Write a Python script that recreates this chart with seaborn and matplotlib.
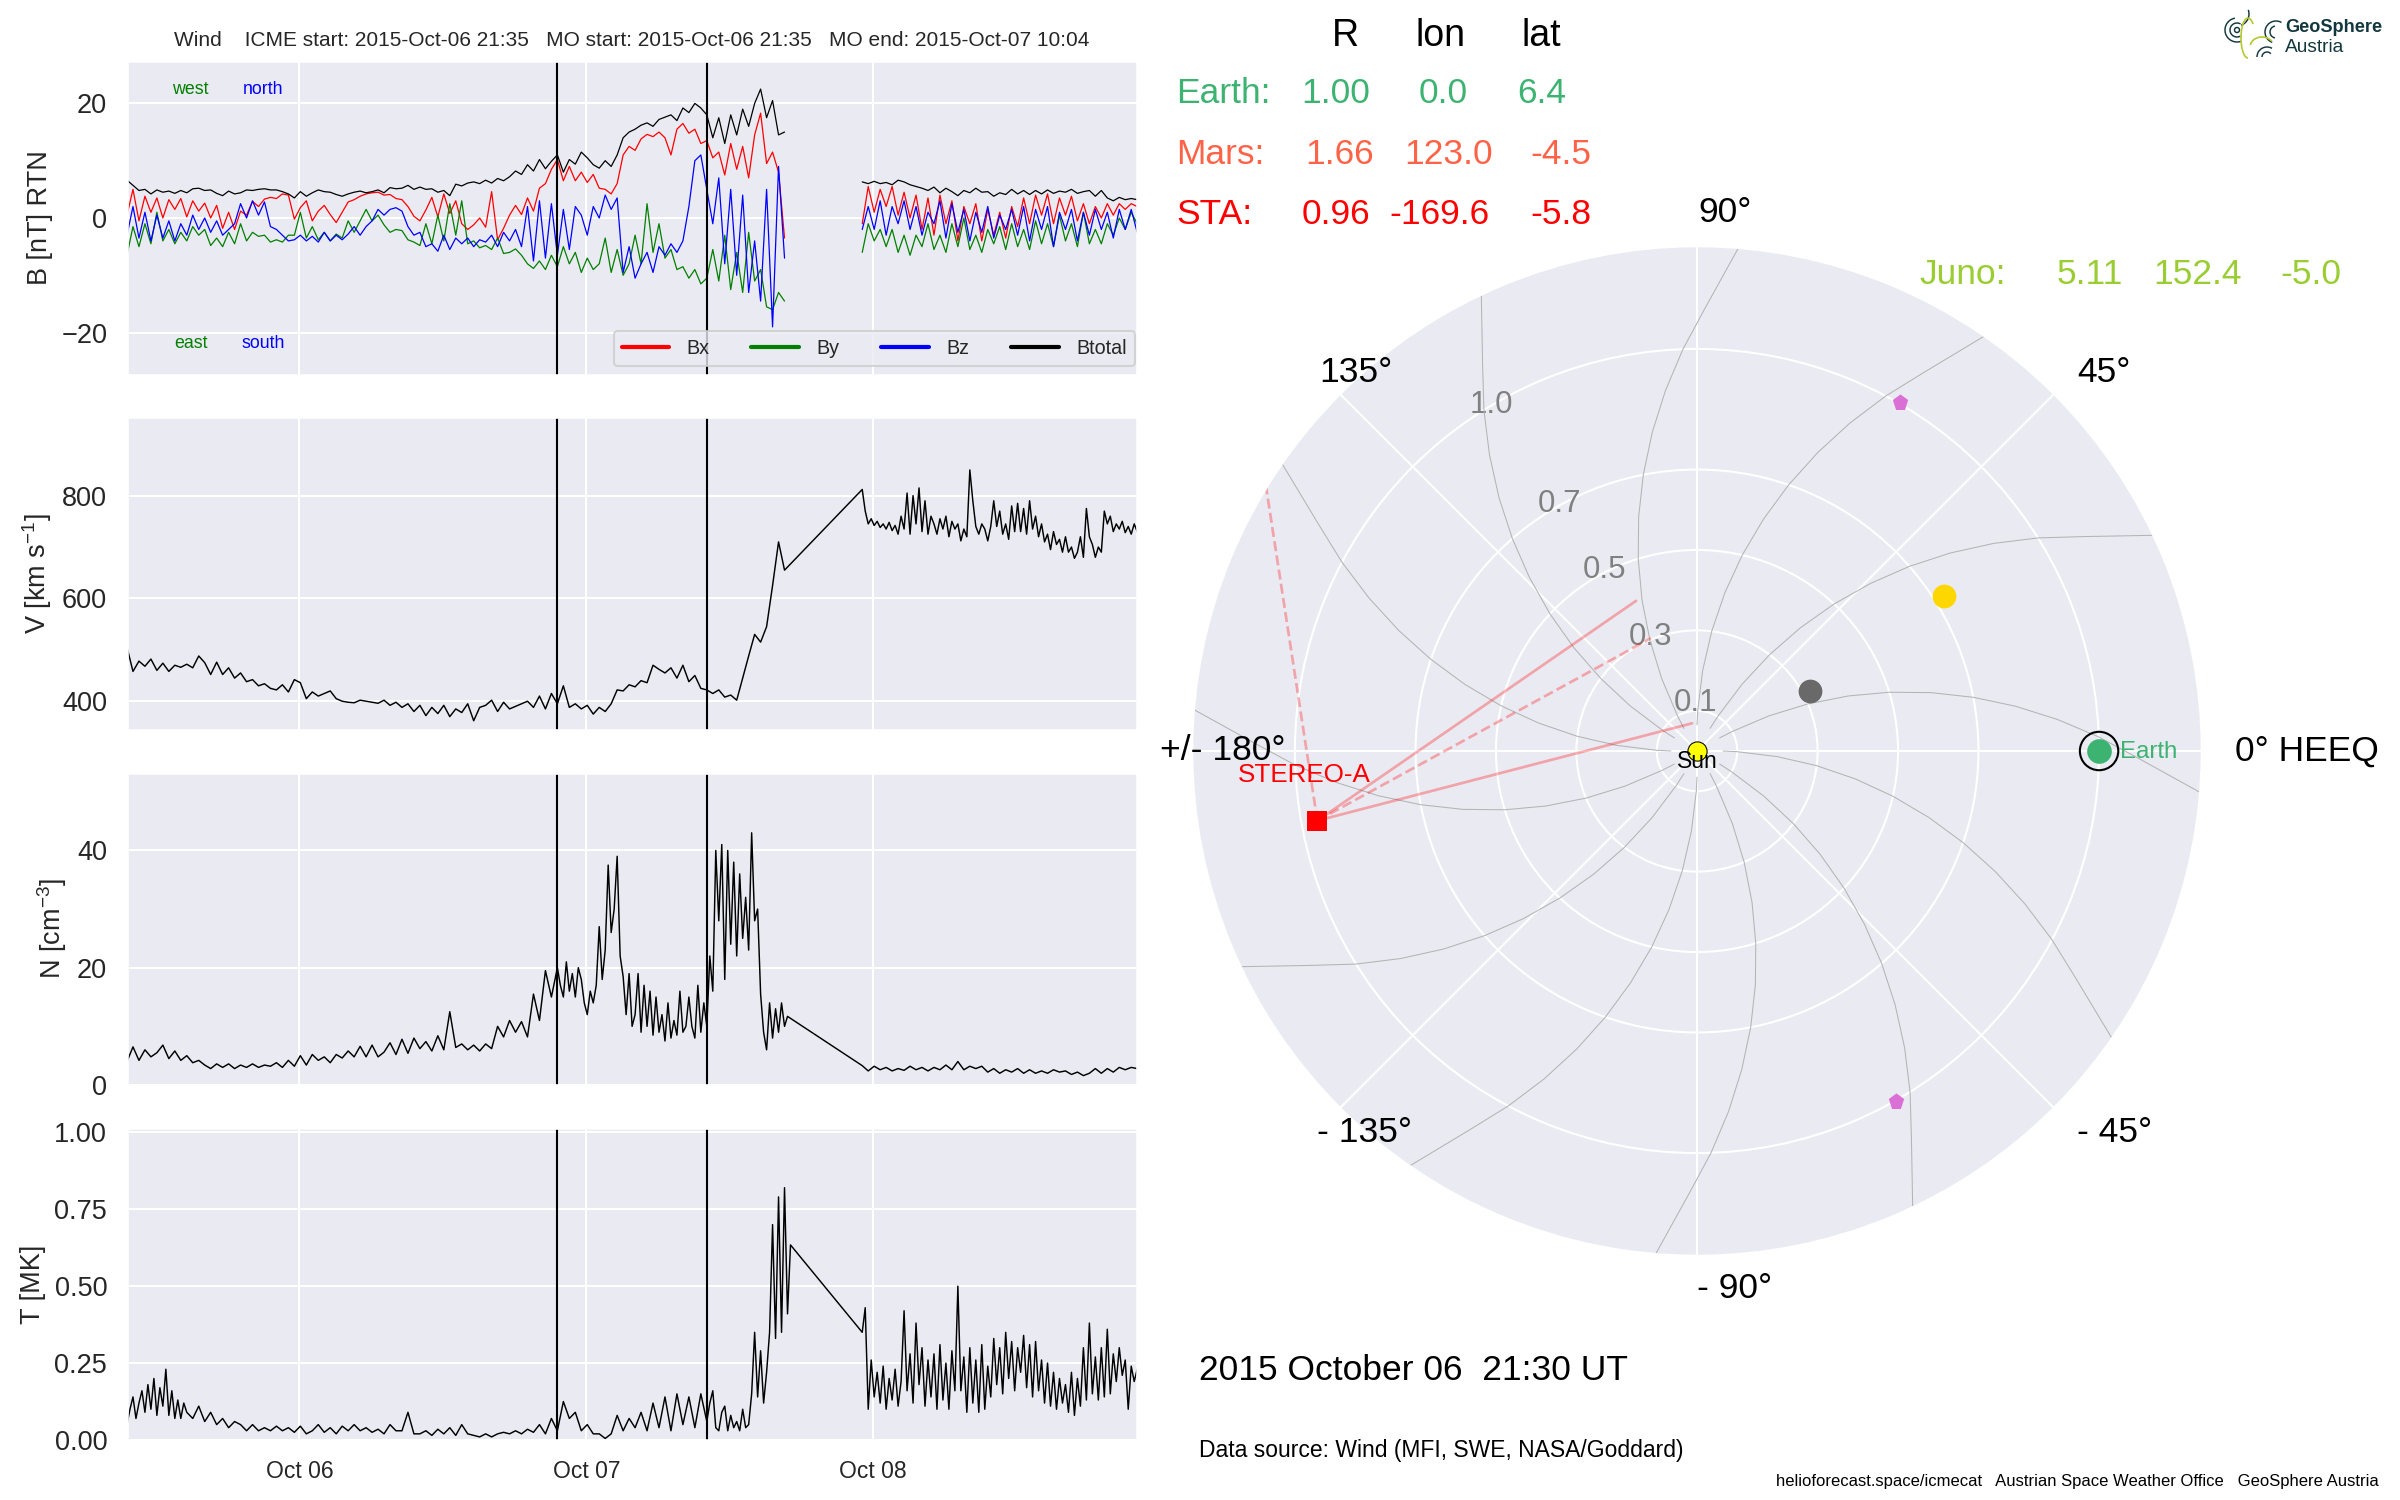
import numpy as np
import pandas as pd
import matplotlib
matplotlib.use("Agg")
import matplotlib.pyplot as plt
import matplotlib.dates as mdates
from matplotlib.lines import Line2D
from matplotlib.patches import Arc, Circle
import seaborn as sns

W, H = 2400, 1500

# ---- in situ data ----
BT_A = [6.6,5.7,4.8,5.0,4.2,4.9,4.5,4.7,4.3,4.8,4.4,5.1,5.2,4.8,4.9,4.3,3.9,4.7,4.2,4.4,4.9,4.8,5.0,5.1,4.9,4.9,4.6,4.2,3.5,
        4.6,3.8,4.4,4.9,4.6,4.5,4.1,3.8,4.2,4.5,4.7,4.4,4.6,4.9,4.4,5.3,5.1,5.2,5.7,5.0,5.4,5.0,5.1,4.5,4.8,3.9,5.9,5.6,
        6.1,6.3,6.0,6.6,6.1,6.9,6.5,7.2,8.2,7.6,9.3,8.2,10.2,8.6,9.9,11.0,
        8.0,10.2,9.4,11.5,10.5,9.3,8.7,10.0,9.0,11.0,14.0,15.0,
        15.5,16.2,16.6,16.0,17.2,17.6,18.0,17.0,19.2,18.4,20.0,19.2,18.0,
        14.0,17.5,13.0,18.0,14.5,19.0,16.0,20.0,22.5,17.5,20.5,14.5,15.0]
BX_A = [0.5,5.0,-0.5,3.8,1.0,3.5,0.0,3.2,1.5,3.4,0.2,3.0,1.2,2.6,0.0,2.2,-1.8,1.0,-2.0,1.2,0.5,2.9,2.0,3.3,3.6,3.4,4.2,4.0,-0.2,
        1.8,3.0,-0.5,1.2,2.2,0.6,-0.8,1.0,2.8,3.2,3.8,4.2,4.4,4.5,4.0,4.1,3.4,3.2,2.0,0.3,-0.5,1.4,3.6,0.2,4.2,0.8,3.0,-1.0,
        -2.0,-1.2,0.0,-1.6,4.6,-3.8,-1.8,0.5,2.2,0.6,3.5,1.2,5.2,6.0,8.5,10.2,
        6.5,9.0,6.5,8.0,6.2,7.6,5.2,5.0,4.2,6.0,11.0,12.5,
        11.8,13.8,14.6,14.2,15.0,14.0,11.0,15.5,16.5,14.8,15.5,13.0,13.5,
        10.5,11.5,7.5,13.0,8.5,12.5,7.0,14.5,18.3,9.5,11.5,8.0,-3.5]
BY_A = [-6.5,-1.5,-5.0,-1.0,-4.5,1.0,-4.0,-2.0,-4.5,-2.5,-4.0,-1.5,-3.0,-2.0,-4.8,-3.5,-5.0,-2.5,-4.5,-1.0,-4.0,-2.5,-3.2,-3.0,-4.2,-3.8,-4.2,-3.0,-3.0,
        1.0,-3.5,-1.5,-3.8,-2.5,-4.0,-2.8,-3.5,-0.5,-2.5,-0.5,1.5,-0.5,0.5,-1.2,-2.5,-2.0,-2.2,-3.8,-4.2,-4.8,-1.0,-4.5,0.5,-4.0,2.5,-3.0,3.0,
        -4.5,-4.0,-5.2,-4.8,-5.5,-3.5,-6.2,-6.0,-5.4,-6.5,-8.0,-8.8,-7.5,-9.0,-6.5,-8.5,
        -5.0,-8.0,-6.0,-9.5,-7.0,-9.0,-8.0,-3.5,-9.5,-5.5,-10.0,-8.0,
        -3.0,-8.0,2.5,-6.0,-1.0,-7.0,-5.5,-9.0,-8.5,-10.5,-9.0,-11.5,-10.5,
        -5.5,-11.0,-3.0,-12.5,-6.0,-13.0,-2.5,-11.0,-9.0,-15.5,-16.0,-13.0,-14.5]
BZ_A = [-3.0,2.0,-3.5,1.0,-4.0,0.5,-3.5,-0.5,-4.0,-1.0,-3.0,0.5,-2.0,0.0,-2.5,-0.5,-3.0,-2.0,-1.0,2.5,0.0,3.0,0.5,2.8,-1.5,-2.0,-3.0,-4.0,-3.8,
        -3.0,-4.0,-3.2,-4.2,-2.5,-4.0,-3.0,-3.8,-2.8,-1.5,-3.0,-1.5,-0.5,1.5,0.5,1.5,1.8,1.2,-1.5,-3.0,-2.5,-5.0,-4.5,-5.8,-3.0,-5.5,-3.5,-4.5,
        -3.5,-5.0,-3.8,-4.2,-3.0,-5.0,-2.5,-4.0,-2.0,-5.0,2.0,-7.5,3.0,-7.0,2.5,-6.5,
        1.5,-5.5,2.0,0.5,-3.0,2.0,0.0,4.0,1.5,3.5,-9.5,-5.0,
        -10.5,-8.0,-6.0,-9.5,-5.0,-6.5,-4.5,-6.0,-4.0,2.0,10.0,11.0,5.0,
        -1.0,7.0,-8.0,5.0,-10.0,4.0,-13.0,-4.0,-14.5,5.0,-19.0,9.0,-7.0]
BT_B = [6.3,6.0,6.4,6.0,6.2,5.8,6.6,6.3,5.8,5.5,5.2,4.8,5.4,4.4,5.2,4.6,3.9,4.8,4.4,5.2,4.5,4.6,3.8,4.4,4.1,5.0,4.2,4.8,4.1,4.8,
        4.2,4.9,4.3,4.7,4.5,5.0,4.3,4.6,4.8,3.8,4.8,3.5,3.0,3.6,3.2,3.4,3.2]
BX_B = [-1,5.5,1,5,2,5.5,0.5,4.5,0,4,-2,3.5,-3,4,-1,3,-4,2,-1,2.5,-4,1.5,-3,1,-3.5,2,-1.5,3.5,-1,4,0.5,4.2,-1,3.5,0.5,3.8,-0.5,2.5,-1,2,0,2.5,0.5,2.5,1.5,2.5,2]
BY_B = [-6,-1,-4,-2,-5,-2,-6,-3,-6.5,-3,-5,-1,-5.5,-3,-6,-1,-5,0,-5.5,-3,-6,-2,-4.5,-1.5,-5.5,-1,-5,-2,-5.5,-0.5,-4.5,-1,-5,0.5,-4,-1,-5,1,-4.5,-2,-4.5,-1,-3,0,-2,1,-1]
BZ_B = [-2,2,-2,3,-3,2,-1,3,-2,2,-3,1,-1,3,-3.5,2.5,-2.5,1.5,-4,1,-2.5,2,-3.5,0.5,-2,1.5,-3,2,-4,1.5,-2,2,-5,1,-2,1.5,-4,1,-3,1.5,-2,1,-3.5,1.5,-2,1.5,-2.5]

V_A = [505,458,478,468,482,460,474,458,470,466,472,465,488,475,452,476,452,465,445,455,438,442,430,434,425,422,432,418,442,
       436,405,418,410,415,420,405,400,398,397,402,400,398,396,402,392,398,388,395,380,392,372,388,376,392,370,385,378,
       395,362,388,392,402,380,398,385,390,395,400,388,410,385,415,395,
       430,388,395,385,392,375,388,380,395,422,420,432,
       428,440,436,470,462,455,465,445,470,438,450,425,422,
       415,422,408,412,402,445,488,530,515,545,625,710,655]
V_B = [812,770,745,755, 742,750,738,745, 735,748,732,742, 725,760,735,805,
       725,800,745,815, 730,790,725,760, 745,725,755,735, 760,720,750,735,
       745,712,735,720, 850,790,740,725, 745,735,712,740, 790,740,770,725,
       745,715,780,730, 785,730,775,725, 790,735,760,720, 745,710,725,695,
       730,705,715,690, 720,690,700,678, 690,720,680,775, 720,705,680,700,
       690,770,745,760, 730,745,735,750, 728,740,725,745, 730]
N_A1 = [4.0,6.5,4.2,6.0,4.8,5.5,6.8,4.5,5.8,4.2,5.0,3.8,4.2,3.4,2.8,3.6,3.0,3.6,2.8,3.4,3.0,3.6,3.0,3.4,3.2,3.8,3.0,4.2,3.2,
        5.0,3.4,5.2,4.2,4.8,3.8,5.2,4.6,5.8,4.8,6.6,4.8,6.8,4.8,5.6,7.2,5.2,7.8,5.4,8.0,6.2,7.4,5.8,8.4,6.0,12.5,6.4,7.0,
        6.0,6.8,5.8,7.0,6.2,10.0,8.2,11.0,9.0,10.8,8.2,15.5,11.0,19.5,15.0,20.0]
N_A2 = [17,15,21,16,19,15,20,18, 14,12,16,14,17,27,18,23, 37.5,26,30,39,22,18.5,12,19,
        10,12,19,9, 17,10,16,8.5, 15,9,12,7.5, 14,8,11,8.5, 16,9,10,15, 10,8,17,9, 14,10,22,16,
        40,28,41,18, 40,24,38,22, 36,25,32,23, 43,28,30,15.5, 9,6,14,8, 13,9,14,10, 11.7]
N_B = [3.3,2.4,3.2,2.6,3.0,2.4,2.8,2.5,3.2,2.6,3.0,2.4,3.0,2.6,3.4,2.6,4.0,2.6,3.2,2.8,3.2,2.2,2.8,2.0,2.6,2.2,2.8,2.0,2.6,2.0,
       2.4,2.0,2.6,2.2,2.4,1.8,2.2,1.6,2.0,2.8,2.0,2.8,2.2,3.0,2.6,3.0,2.8]
T_A1 = [.05,.10,.14,.07,.12,.16,.09,.18,.10,.20,.08,.17,.11,.23,.08,.16,.07,.13,.07,.12,.09]
T_A2 = [0.07,0.11,0.06,0.09,0.05,0.07,0.04,0.06,0.05,0.03,0.05,0.03,0.04,0.03,0.045,0.03,0.04,0.025,
        0.045,0.02,0.03,0.05,0.025,0.04,0.02,0.045,0.03,0.05,0.03,0.04,0.025,0.035,0.02,0.05,0.03,0.03,0.09,0.02,0.02,0.03,0.015,0.035,0.02,0.04,0.015,0.05,
        0.02,0.015,0.01,0.02,0.01,0.02,0.025,0.02,0.03,0.02,0.035,0.025,0.05,0.02,0.07,0.03,
        0.125,0.07,0.09,0.03,0.05,0.02,0.02,0.005,0.02,0.08,0.03,0.07,
        0.04,0.09,0.03,0.12,0.04,0.14,0.03,0.15,0.05,0.14,0.04,0.15]
T_A3 = [.06,.12,.16,.04,.03,.09,.11,.03,.08,.04,.06,.03,.10,.04,
        .05,.15,.35,.14,.29,.12,.22,.35,.70,.33,.79,.35,.82,.41,.634]
T_B = [.35,.43,.10,.26, .14,.22,.12,.24, .10,.20,.13,.23, .11,.19,.42,.16, .28,.12,.38,.18,
       .30,.11,.26,.14, .28,.10,.31,.13, .25,.10,.29,.16, .50,.16,.27,.09, .30,.12,.26,.09,
       .31,.10,.24,.14, .33,.18,.30,.15, .35,.20,.32,.16, .30,.22,.34,.17, .31,.14,.32,.16,
       .26,.12,.25,.11, .22,.10,.20,.12, .18,.09,.22,.08, .20,.11,.30,.13, .38,.15,.27,.13,
       .30,.14,.36,.15, .28,.19,.30,.21, .26,.10,.24,.19, .23]

# ---- heliospheric positions: (lon deg, r AU) ----
EARTH_POS = (0.0, 1.00)
MERCURY_POS = (28.0, 0.318)
VENUS_POS = (32.1, 0.725)
STA_POS = (-169.6, 0.96)
SOLO_POS = (59.8, 1.005)
PSP_POS = (-60.4, 1.00)
FOV_SOLID_ENDS = [(100.0, 0.07), (112.1, 0.403)]
FOV_DASH_ENDS = [(112.2, 0.303), (148.5, 1.257)]
SPIRAL_ROOTS = [0, 30, 60, 90, 120, 150, 180, 210, 240, 270, 300, 330]
SPIRAL_R = [0.065, 0.10, 0.20, 0.30, 0.40, 0.50, 0.60, 0.70, 0.80, 0.90, 1.00, 1.10, 1.27]
SPIRAL_LAG = [0, 1, 4, 7, 10, 13, 16, 19, 22, 25, 28, 31, 35]
R_TICKS = [0.1, 0.3, 0.5, 0.7, 1.0]
THETA_TICKS = [0, 45, 90, 135, 180, 225, 270, 315]

# ---- theme ----
sns.set_theme(style="darkgrid")
plt.rcParams["font.family"] = ["Liberation Sans", "DejaVu Sans"]
plt.rcParams["mathtext.default"] = "regular"

fig = plt.figure(figsize=(16, 10), dpi=150, facecolor="white")


def box(x0, y0, x1, y1, **kw):
    return fig.add_axes([x0 / W, 1 - y1 / H, (x1 - x0) / W, (y1 - y0) / H], **kw)


def ftext(x, y, s, **kw):
    kw.setdefault("va", "center")
    kw.setdefault("ha", "left")
    fig.text(x / W, 1 - y / H, s, **kw)


START = pd.Timestamp("2015-10-05 09:35")
END = pd.Timestamp("2015-10-08 22:04")
ICME = pd.Timestamp("2015-10-06 21:35")
MOE = pd.Timestamp("2015-10-07 10:04")


def times(n, first_hour, step=0.5):
    return list(START + pd.to_timedelta(first_hour + np.arange(n) * step, unit="h"))


def draw(ax, segments, color, lw=0.6):
    xs, ys = [], []
    for first, step, vals in segments:
        xs += times(len(vals), first, step)
        ys += list(vals)
    sns.lineplot(x=xs, y=ys, ax=ax, color=color, linewidth=lw, estimator=None, errorbar=None)


ax1 = box(127, 61, 1137, 375)
ax2 = box(127, 417, 1137, 730)
ax3 = box(127, 773, 1137, 1085)
ax4 = box(127, 1128, 1137, 1440)

for a, b, c in [(BX_A, BX_B, "red"), (BY_A, BY_B, "green"), (BZ_A, BZ_B, "blue"), (BT_A, BT_B, "black")]:
    draw(ax1, [(0, 0.5, a)], c)
    draw(ax1, [(61.5, 0.5, b)], c)
draw(ax2, [(0, 0.5, V_A), (61.5, 0.25, V_B)], "black", 0.7)
draw(ax3, [(0, 0.5, N_A1), (36.25, 0.25, N_A2), (61.5, 0.5, N_B)], "black", 0.7)
draw(ax4, [(0, 0.25, T_A1), (5.5, 0.5, T_A2), (48.5, 0.25, T_A3), (61.5, 0.25, T_B)], "black", 0.7)

limits = [(-27.4, 27.4), (344, 953), (0, 53.2), (0, 1.014)]
yticks = [[-20, 0, 20], [400, 600, 800], [0, 20, 40], [0, 0.25, 0.5, 0.75, 1.0]]
ylabels = ["B [nT] RTN", "V [km s$^{-1}$]", "N [cm$^{-3}$]", "T [MK]"]
for ax, lim, tk, lab in zip([ax1, ax2, ax3, ax4], limits, yticks, ylabels):
    ax.axvline(ICME, color="black", lw=1.0)
    ax.axvline(MOE, color="black", lw=1.0)
    ax.set_xlim(START, END)
    ax.set_ylim(*lim)
    ax.set_yticks(tk)
    ax.set_ylabel(lab, fontsize=13)
    ax.set_xlabel("")
    ax.xaxis.set_major_locator(mdates.DayLocator())
    ax.xaxis.set_major_formatter(mdates.DateFormatter("%b %d"))
    ax.tick_params(axis="both", labelsize=13)
    if ax is not ax4:
        ax.tick_params(axis="x", labelbottom=False)
ax4.set_yticklabels(["0.00", "0.25", "0.50", "0.75", "1.00"])
ax4.tick_params(axis="x", labelsize=11)

ax1.set_title("Wind    ICME start: 2015-Oct-06 21:35   MO start: 2015-Oct-06 21:35   MO end: 2015-Oct-07 10:04",
              fontsize=10, pad=7)
ax1.legend(handles=[Line2D([], [], color=c, lw=2, label=l)
                    for c, l in zip(["red", "green", "blue", "black"], ["Bx", "By", "Bz", "Btotal"])],
           ncol=4, fontsize=9.5, loc="lower right", bbox_to_anchor=(0.998, 0.03), borderaxespad=0,
           handlelength=2.4, columnspacing=2.1, handletextpad=0.9, facecolor="#EAEAF2",
           framealpha=0.8, edgecolor="#CCCCCC")
ftext(172, 89, "west", color="green", fontsize=8.5)
ftext(243, 89, "north", color="blue", fontsize=8.5)
ftext(174.5, 344, "east", color="green", fontsize=8.5)
ftext(242, 344, "south", color="blue", fontsize=8.5)

# ---- polar panel ----
pol = box(1192, 246, 2202, 1256, projection="polar")
pol.grid(True, color="white", lw=1.0)
for root in SPIRAL_ROOTS:
    sns.lineplot(x=np.radians(root - np.array(SPIRAL_LAG)), y=SPIRAL_R, ax=pol, color="#B4B4B4",
                 linewidth=0.5, sort=False, estimator=None, errorbar=None)

sx, sr = np.radians(STA_POS[0]), STA_POS[1]
for lon, r in FOV_SOLID_ENDS:
    sns.lineplot(x=[sx, np.radians(lon)], y=[sr, r], ax=pol, color="red", alpha=0.3, linewidth=1.3,
                 sort=False, estimator=None, errorbar=None)
for lon, r in FOV_DASH_ENDS:
    sns.lineplot(x=[sx, np.radians(lon)], y=[sr, r], ax=pol, color="red", alpha=0.3, linewidth=1.3,
                 linestyle="--", sort=False, estimator=None, errorbar=None)


def mark(pos, **kw):
    sns.scatterplot(x=[np.radians(pos[0])], y=[pos[1]], ax=pol, zorder=5, legend=False, **kw)


mark(MERCURY_POS, color="dimgrey", s=130, linewidth=0)
mark(VENUS_POS, color="gold", s=130, linewidth=0)
mark(EARTH_POS, color="mediumseagreen", s=140, linewidth=0)
mark(EARTH_POS, facecolor="none", edgecolor="black", s=340, linewidth=1.0)
mark(STA_POS, color="red", marker="s", s=85, linewidth=0)
mark(SOLO_POS, color="orchid", marker="p", s=60, linewidth=0)
mark(PSP_POS, color="orchid", marker="p", s=60, linewidth=0)
mark((0, 0), color="yellow", edgecolor="black", s=85, linewidth=0.5)

pol.set_xticks(np.radians(THETA_TICKS))
pol.set_xticklabels([])
pol.set_rlabel_position(124.5)
pol.set_rticks(R_TICKS)
pol.set_yticklabels([str(v) for v in R_TICKS])
pol.tick_params(axis="y", labelsize=15, labelcolor="#808080")
pol.set_rlim(0, 1.256)
pol.set_xlabel("")
pol.set_ylabel("")

for x, y, s in [(1698, 213, "90°"), (2077, 372, "45°"), (1319, 372, "135°"),
                (1160, 751, "+/- 180°"), (2235, 751, "0° HEEQ"),
                (1317, 1132, "- 135°"), (2077, 1132, "- 45°"), (1697, 1288, "- 90°")]:
    ftext(x, y, s, fontsize=17, color="black")

ftext(2120, 751.5, "Earth", color="mediumseagreen", fontsize=11.5)
ftext(1697, 761, "Sun", color="black", fontsize=11, ha="center")
ftext(1238, 775, "STEREO-A", color="red", fontsize=12.5)

# ---- position table ----
for x, s in [(1332, "R"), (1415, "lon"), (1522, "lat")]:
    ftext(x, 35.5, s, fontsize=18, color="black")
rows = [
    (93.5, "mediumseagreen", [(1176, "Earth:"), (1301.5, "1.00"), (1419, "0.0"), (1517, "6.4")]),
    (154, "tomato", [(1176, "Mars:"), (1305, "1.66"), (1404, "123.0"), (1530, "-4.5")]),
    (215, "red", [(1176, "STA:"), (1301.5, "0.96"), (1389, "-169.6"), (1530, "-5.8")]),
    (275, "yellowgreen", [(1919.5, "Juno:"), (2057, "5.11"), (2153, "152.4"), (2280, "-5.0")]),
]
for y, col, cells in rows:
    for x, s in cells:
        ftext(x, y, s, fontsize=17, color=col)

ftext(1199, 1370, "2015 October 06  21:30 UT", fontsize=17, color="black")
ftext(1199, 1450, "Data source: Wind (MFI, SWE, NASA/Goddard)", fontsize=11, color="black")
ftext(1776, 1481.5, "helioforecast.space/icmecat   Austrian Space Weather Office   GeoSphere Austria",
      fontsize=8, color="black")

# ---- logo ----
logo = box(2210, 5, 2400, 65)
logo.set_xlim(2210, 2400)
logo.set_ylim(65, 5)
logo.axis("off")
TEAL = "#13373F"
logo.add_patch(Circle((2237, 30), 2.5, fill=False, ec=TEAL, lw=0.7))
for r, a0, a1 in [(7, 60, 300), (12, 70, 260)]:
    logo.add_patch(Arc((2237, 30), 2 * r, 2 * r, theta1=a0, theta2=a1, ec=TEAL, lw=0.7))
for r, a0, a1 in [(6, 100, 260), (11, 110, 300)]:
    logo.add_patch(Arc((2276, 32), 2 * r, 2 * r, theta1=a0, theta2=a1, ec=TEAL, lw=0.7))
for r, a0, a1 in [(5, 180, 320), (10, 180, 300)]:
    logo.add_patch(Arc((2267, 57), 2 * r, 2 * r, theta1=a0, theta2=a1, ec=TEAL, lw=0.7))
logo.add_patch(Arc((2237, 14), 24, 24, theta1=-20, theta2=70, ec=TEAL, lw=0.7))
logo.add_patch(Arc((2248, 38), 14, 40, theta1=90, theta2=290, ec="#B5C92D", lw=0.8))
logo.add_patch(Arc((2262, 47), 24, 20, theta1=190, theta2=330, ec="#B5C92D", lw=0.8))
ftext(2285, 28, "GeoSphere", fontsize=8.7, fontweight="bold", color=TEAL)
ftext(2285, 48, "Austria", fontsize=9.2, color=TEAL)

fig.savefig("out.png", dpi=150, facecolor="white")
